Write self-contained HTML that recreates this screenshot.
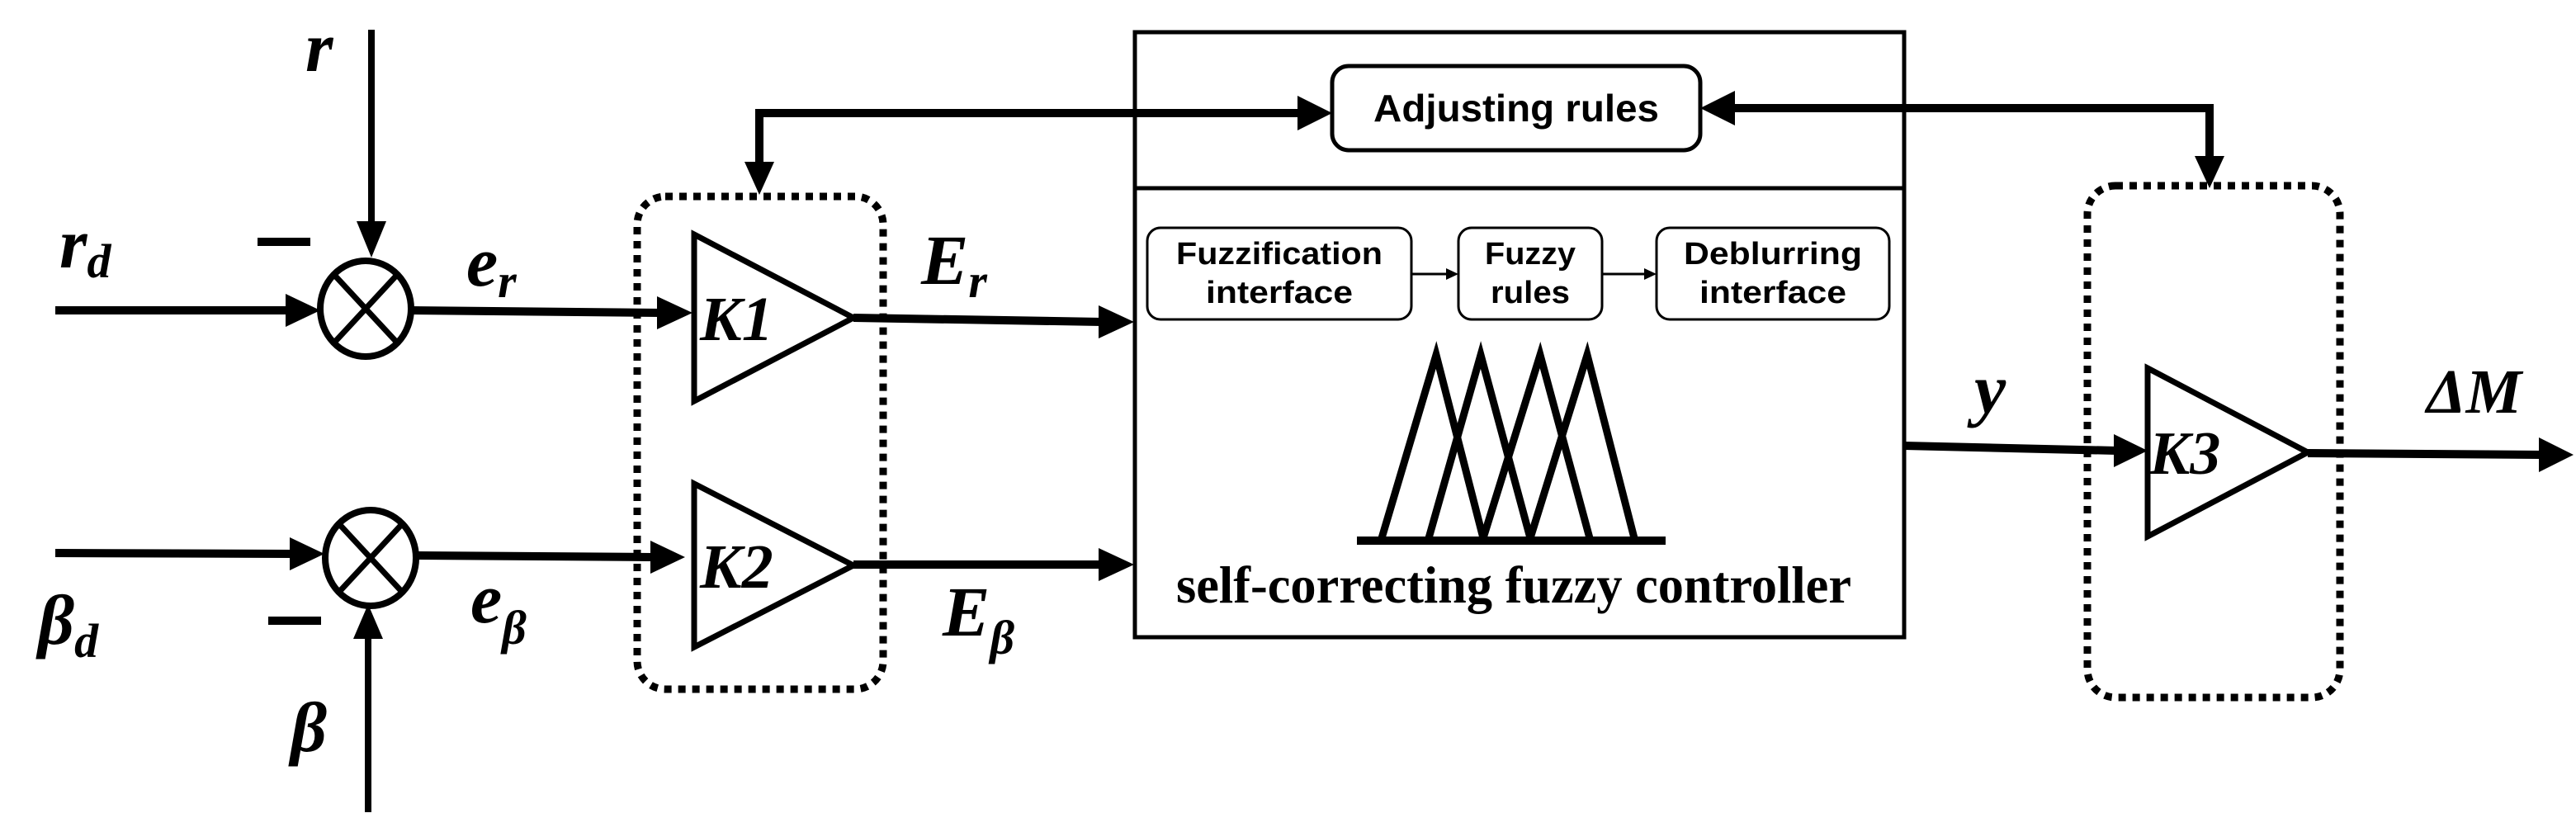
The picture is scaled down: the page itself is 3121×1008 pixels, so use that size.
<!DOCTYPE html>
<html><head><meta charset="utf-8"><style>
html,body{margin:0;padding:0;background:#fff;}
svg{display:block;}
.m{font-family:"Liberation Serif",serif;font-weight:bold;font-style:italic;fill:#000;}
.s{font-family:"Liberation Sans",sans-serif;font-weight:bold;fill:#000;}
</style></head><body>
<svg width="3121" height="1008" viewBox="0 0 3121 1008" xmlns="http://www.w3.org/2000/svg">
<g stroke="#000" fill="none">
<line x1="450" y1="36" x2="450" y2="270" stroke-width="8"/>
<path d="M432,268 L468,268 L450,312z" fill="#000" stroke="none"/>
<ellipse cx="443" cy="374" rx="55" ry="58" stroke-width="8"/>
<line x1="405" y1="333" x2="481" y2="415" stroke-width="7"/>
<line x1="481" y1="333" x2="405" y2="415" stroke-width="7"/>
<line x1="67" y1="376" x2="350" y2="376" stroke-width="10"/>
<path d="M346,356 L388,376 L346,396z" fill="#000" stroke="none"/>
<line x1="498" y1="376" x2="800" y2="379" stroke-width="10"/>
<path d="M796,359 L839,379 L796,399z" fill="#000" stroke="none"/>
<ellipse cx="449" cy="676" rx="55" ry="58" stroke-width="8"/>
<line x1="411" y1="635" x2="487" y2="717" stroke-width="7"/>
<line x1="487" y1="635" x2="411" y2="717" stroke-width="7"/>
<line x1="67" y1="670" x2="355" y2="671" stroke-width="10"/>
<path d="M351,651 L393,671 L351,691z" fill="#000" stroke="none"/>
<line x1="504" y1="673" x2="790" y2="675" stroke-width="10"/>
<path d="M788,655 L830,675 L788,695z" fill="#000" stroke="none"/>
<line x1="446" y1="770" x2="446" y2="984" stroke-width="8"/>
<path d="M428,774 L464,774 L446,732z" fill="#000" stroke="none"/>
<line x1="312" y1="293" x2="376" y2="293" stroke-width="10"/>
<line x1="325" y1="752" x2="389" y2="752" stroke-width="10"/>
<rect x="772" y="238" width="298" height="597" rx="34" stroke-width="9" stroke-dasharray="9,8"/>
<path d="M841,284 L1034,385 L841,486z" stroke-width="7"/>
<path d="M841,586 L1034,685 L841,784z" stroke-width="7"/>
<line x1="1034" y1="385" x2="1335" y2="390" stroke-width="10"/>
<path d="M1331,370 L1374,390 L1331,410z" fill="#000" stroke="none"/>
<line x1="1034" y1="684" x2="1335" y2="684" stroke-width="10"/>
<path d="M1331,664 L1374,684 L1331,704z" fill="#000" stroke="none"/>
<rect x="1375" y="39" width="932" height="733" stroke-width="5"/>
<line x1="1375" y1="228" x2="2307" y2="228" stroke-width="5"/>
<rect x="1614" y="80" width="446" height="102" rx="20" stroke-width="5"/>
<polyline points="920,210 920,137 1575,137" stroke-width="10"/>
<path d="M902,196 L938,196 L920,236z" fill="#000" stroke="none"/>
<path d="M1572,116 L1614,137 L1572,158z" fill="#000" stroke="none"/>
<polyline points="2098,131 2677,131 2677,192" stroke-width="10"/>
<path d="M2102,110 L2060,131 L2102,152z" fill="#000" stroke="none"/>
<path d="M2659,189 L2695,189 L2677,228z" fill="#000" stroke="none"/>
<rect x="1390" y="276" width="320" height="111" rx="16" stroke-width="3"/>
<rect x="1767" y="276" width="174" height="111" rx="16" stroke-width="3"/>
<rect x="2007" y="276" width="282" height="111" rx="16" stroke-width="3"/>
<line x1="1710" y1="332" x2="1755" y2="332" stroke-width="3"/>
<path d="M1752,325 L1767,332 L1752,339z" fill="#000" stroke="none"/>
<line x1="1941" y1="332" x2="1995" y2="332" stroke-width="3"/>
<path d="M1992,325 L2007,332 L1992,339z" fill="#000" stroke="none"/>
<g stroke-width="9" stroke-linejoin="miter">
<polyline points="1674,652 1740,430 1797,652"/>
<polyline points="1731,652 1794,430 1854,652"/>
<polyline points="1797,652 1866,430 1926,652"/>
<polyline points="1854,652 1923,430 1980,652"/>
</g>
<line x1="1644" y1="655" x2="2018" y2="655" stroke-width="10"/>
<line x1="2307" y1="540" x2="2565" y2="546" stroke-width="10"/>
<path d="M2561,526 L2602,546 L2561,566z" fill="#000" stroke="none"/>
<rect x="2529" y="225" width="306" height="620" rx="34" stroke-width="9" stroke-dasharray="9,8"/>
<path d="M2602,446 L2796,548 L2602,650z" stroke-width="7"/>
<line x1="2796" y1="549" x2="3080" y2="551" stroke-width="10"/>
<path d="M3076,530 L3118,551 L3076,572z" fill="#000" stroke="none"/>
</g>
<text class="m" x="370" y="86" font-size="86">r</text>
<text class="m" x="72" y="324" font-size="86">r<tspan font-size="58" dy="12">d</tspan></text>
<text class="m" x="565" y="346" font-size="86">e<tspan font-size="58" dy="14">r</tspan></text>
<text class="m" x="1116" y="344" font-size="86">E<tspan font-size="58" dy="16">r</tspan></text>
<text class="m" x="46" y="780" font-size="86">β<tspan font-size="58" dy="16">d</tspan></text>
<text class="m" x="570" y="754" font-size="86">e<tspan font-size="58" dy="26">β</tspan></text>
<text class="m" x="1142" y="770" font-size="86">E<tspan font-size="58" dy="22">β</tspan></text>
<text class="m" x="352" y="910" font-size="86">β</text>
<text class="m" x="848" y="412" font-size="76">K1</text>
<text class="m" x="848" y="712" font-size="76">K2</text>
<text class="m" x="2604" y="574" font-size="74">K3</text>
<text class="m" x="2392" y="500" font-size="86">y</text>
<text class="m" x="2940" y="500" font-size="76">ΔM</text>
<text class="s" x="1837" y="147" font-size="46" text-anchor="middle" textLength="346" lengthAdjust="spacingAndGlyphs">Adjusting rules</text>
<text class="s" x="1550" y="320" font-size="38" text-anchor="middle" textLength="250" lengthAdjust="spacingAndGlyphs">Fuzzification</text>
<text class="s" x="1550" y="367" font-size="38" text-anchor="middle" textLength="178" lengthAdjust="spacingAndGlyphs">interface</text>
<text class="s" x="1854" y="320" font-size="38" text-anchor="middle" textLength="110" lengthAdjust="spacingAndGlyphs">Fuzzy</text>
<text class="s" x="1854" y="367" font-size="38" text-anchor="middle" textLength="96" lengthAdjust="spacingAndGlyphs">rules</text>
<text class="s" x="2148" y="320" font-size="38" text-anchor="middle" textLength="216" lengthAdjust="spacingAndGlyphs">Deblurring</text>
<text class="s" x="2148" y="367" font-size="38" text-anchor="middle" textLength="178" lengthAdjust="spacingAndGlyphs">interface</text>
<text x="1834" y="730" font-family="Liberation Serif,serif" font-weight="bold" font-size="64" text-anchor="middle" textLength="818" lengthAdjust="spacingAndGlyphs">self-correcting fuzzy controller</text>
</svg>
</body></html>
